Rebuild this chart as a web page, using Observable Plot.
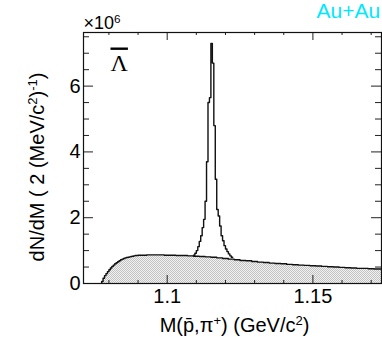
<!DOCTYPE html>
<html><head><meta charset="utf-8">
<script src="https://cdn.jsdelivr.net/npm/d3@7"></script>
<script src="https://cdn.jsdelivr.net/npm/@observablehq/plot@0.6"></script>
<style>body{margin:0;background:#fff}</style>
</head><body><div id="chart"></div>
<script>
// ---- data (values in units of 10^6) ----
const riseStart = 1.0775;     // GeV/c^2, threshold region, fine bins
const riseBinWidth = 0.0005;
const riseValues = [0.06,0.16,0.24,0.30,0.36,0.42,0.47,0.52,0.56,0.60,0.63,0.66,0.69,0.72,0.74,0.76,
  0.78,0.79,0.80,0.81,0.82,0.83,0.84,0.85,0.85,0.86,0.86];
const bgStart = 1.091;        // background continuation, 2 MeV bins
const bgBinWidth = 0.002;
const bgValues = [0.86,0.87,0.87,0.87,0.86,0.86,0.85,0.85,0.84,
  0.83,0.82,0.81,0.80,0.78,0.76,0.74,0.72,0.70,0.69,0.67,0.65,0.64,0.62,0.61,0.60,0.58,0.57,0.56,
  0.55,0.54,0.53,0.52,0.51,0.50,0.49,0.48,0.47,0.46,0.46,0.45,0.44,0.44];
const peakStart = 1.109;
const peakBinWidth = 0.0005;
const peakValues = [0.86,0.92,1.00,1.12,1.28,1.45,1.70,1.95,2.50,3.70,5.50,5.65,7.30,6.70,4.80,3.17,
  2.25,2.05,1.75,1.45,1.30,1.15,1.05,0.97,0.90,0.84,0.80];
const yMajorTicks = [0, 2, 4, 6];
const yMinorTicks = [0.5,1,1.5,2.5,3,3.5,4.5,5,5.5,6.5,7,7.5];
const xMajorTicks = [1.1, 1.15];
const xMinorTicks = [1.08,1.09,1.11,1.12,1.13,1.14,1.16,1.17];
const xTickLabels = ["1.1", "1.15"];
const xTitle = "M(p\u0304,\u03c0+) (GeV/c2)";
const yTitle = "dN/dM ( 2 (MeV/c2)-1)";
const scaleText = "\u00d7106";
const particleText = "\u039b";
const systemText = "Au+Au";

// ---- build step-histogram point lists ----
const bgPts = [{m: riseStart, v: 0}]
  .concat(riseValues.map((v, i) => ({m: riseStart + i * riseBinWidth, v})))
  .concat(bgValues.map((v, i) => ({m: bgStart + i * bgBinWidth, v})))
  .concat([{m: bgStart + bgValues.length * bgBinWidth, v: bgValues[bgValues.length - 1]}]);
const pkPts = peakValues.map((v, i) => ({m: peakStart + i * peakBinWidth, v}))
  .concat([{m: peakStart + peakValues.length * peakBinWidth, v: peakValues[peakValues.length - 1]}]);

const W = 382, H = 337, mT = 32, mL = 83, mR = 1, mB = 54;
const fw = W - mL - mR, fh = H - mT - mB;

const svg = Plot.plot({
  width: W, height: H, marginTop: mT, marginLeft: mL, marginRight: mR, marginBottom: mB,
  x: {domain: [1.07128, 1.17354]},
  y: {domain: [0, 7.63]},
  style: {fontFamily: "Liberation Sans, Arial, sans-serif", fontSize: "20px", background: "white", color: "black", overflow: "visible"},
  marks: [
    Plot.areaY(bgPts, {x: "m", y: "v", curve: "step-after", fill: "url(#hatch)", clip: true}),
    Plot.line(bgPts, {x: "m", y: "v", curve: "step-after", stroke: "#111", strokeWidth: 1.4, clip: true}),
    Plot.line(pkPts, {x: "m", y: "v", curve: "step-after", stroke: "#111", strokeWidth: 1.4, clip: true}),
    // inward ticks
    Plot.ruleX(xMajorTicks, {insetTop: fh - 8, stroke: "#222"}),
    Plot.ruleX(xMinorTicks, {insetTop: fh - 3, stroke: "#222"}),
    Plot.ruleX(xMajorTicks, {insetBottom: fh - 8, stroke: "#222"}),
    Plot.ruleX(xMinorTicks, {insetBottom: fh - 3, stroke: "#222"}),
    Plot.ruleY(yMajorTicks, {insetRight: fw - 10, stroke: "#222"}),
    Plot.ruleY(yMinorTicks, {insetRight: fw - 6, stroke: "#222"}),
    Plot.ruleY(yMajorTicks, {insetLeft: fw - 10, stroke: "#222"}),
    Plot.ruleY(yMinorTicks, {insetLeft: fw - 6, stroke: "#222"}),
    Plot.frame({stroke: "#111", strokeWidth: 1.2}),
    Plot.axisX({ticks: xMajorTicks, tickSize: 0, tickPadding: 5, label: null, tickFormat: (d, i) => xTickLabels[i]}),
    Plot.axisY({ticks: yMajorTicks, tickSize: 0, tickPadding: 3, label: null}),
    Plot.text([xTitle], {frameAnchor: "bottom", dx: 2, dy: 48, lineAnchor: "bottom", textAnchor: "middle", fontSize: 20}),
    Plot.text([yTitle], {frameAnchor: "left", rotate: -90, dx: -40, dy: 9, lineAnchor: "bottom", textAnchor: "middle", fontSize: 20}),
    Plot.text([scaleText], {frameAnchor: "top-left", dx: 0, dy: -4, lineAnchor: "bottom", textAnchor: "start", fontSize: 18}),
    Plot.text([particleText], {frameAnchor: "top-left", dx: 27, dy: 38, lineAnchor: "bottom", textAnchor: "start", fontSize: 24, fontFamily: "Liberation Serif, serif"}),
    Plot.text([systemText], {frameAnchor: "top-left", dx: 233, dy: -15, lineAnchor: "bottom", textAnchor: "start", fontSize: 21, fill: "#00e8ff"})
  ]
});

// checkered fill pattern for the background area
const defs = d3.select(svg).insert("defs", ":first-child");
const pat = defs.append("pattern").attr("id", "hatch").attr("width", 2).attr("height", 2).attr("patternUnits", "userSpaceOnUse");
pat.append("rect").attr("width", 2).attr("height", 2).attr("fill", "#f2f2f2");
pat.append("rect").attr("width", 1).attr("height", 1).attr("fill", "#c2c2c2");
pat.append("rect").attr("x", 1).attr("y", 1).attr("width", 1).attr("height", 1).attr("fill", "#c2c2c2");

// superscripts and overline as real text tspans
function setRich(text, parts) {
  const sel = d3.select(svg).selectAll("text").filter(function() { return this.textContent === text; });
  sel.each(function() {
    const node = this.querySelector("tspan") || this;
    const el = d3.select(node);
    el.text(null);
    for (const [str, sp] of parts) {
      const ts = el.append("tspan").text(str);
      if (sp) ts.attr("font-size", "0.65em").attr("baseline-shift", "super");
    }
  });
}
setRich(xTitle, [["M(p\u0304,\u03c0", 0], ["+", 1], [") (GeV/c", 0], ["2", 1], [")", 0]]);
setRich(yTitle, [["dN/dM ( 2 (MeV/c", 0], ["2", 1], [")", 0], ["-1", 1], [")", 0]]);
setRich(scaleText, [["\u00d710", 0], ["6", 1]]);
d3.select(svg).selectAll("text").filter(function() { return this.textContent === particleText; })
  .style("text-decoration", "overline");

document.getElementById("chart").appendChild(svg);
</script></body></html>
